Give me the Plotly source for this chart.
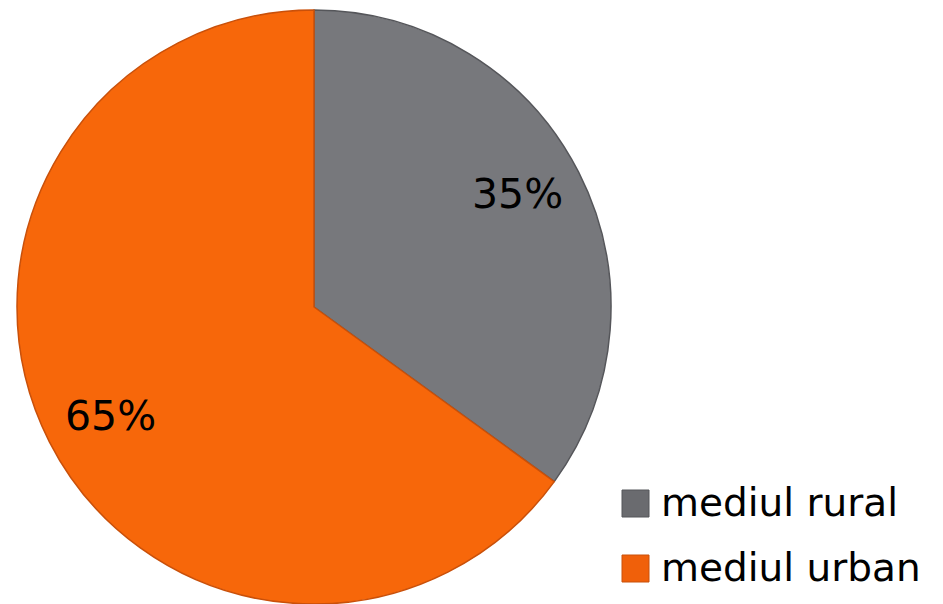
import math
import plotly.graph_objects as go

categories = ["mediul rural", "mediul urban"]
values = [35, 65]
colors = ["#77787c", "#f7670a"]
edge_colors = ["#55565a", "#c9500a"]
legend_fill = ["#6a6b6f", "#f0600a"]

W, H = 943, 604
FONT = "DejaVu Sans"

# pie geometry in pixels
cx, cy, r = 314, 307, 297

fig = go.Figure(go.Pie(
    labels=categories,
    values=values,
    sort=False,
    direction="clockwise",
    rotation=0,
    marker=dict(colors=colors, line=dict(color=edge_colors, width=1.5)),
    textinfo="none",
    hoverinfo="label+percent",
    showlegend=False,
    domain=dict(x=[(cx - r) / W, (cx + r) / W], y=[1 - (cy + r) / H, 1 - (cy - r) / H]),
))

annotations = []
total = sum(values)
start = 0.0
for v in values:
    frac = v / total
    mid = (start + frac / 2) * 2 * math.pi - math.radians(1.5)
    start += frac
    px = cx + 0.78 * r * math.sin(mid)
    py = cy - 0.78 * r * math.cos(mid)
    annotations.append(dict(
        x=px / W, y=1 - py / H, xref="paper", yref="paper",
        text=f"{round(frac * 100)}%", showarrow=False,
        font=dict(family=FONT, size=41, color="#000000"),
        xanchor="center", yanchor="middle", yshift=2,
    ))

shapes = []
leg_x0, leg_y0, step, sq = 622, 490, 65, 27
for i, name in enumerate(categories):
    y0 = leg_y0 + i * step
    shapes.append(dict(
        type="rect", xref="paper", yref="paper",
        x0=leg_x0 / W, x1=(leg_x0 + sq) / W,
        y0=1 - (y0 + sq) / H, y1=1 - y0 / H,
        fillcolor=legend_fill[i], line=dict(color=edge_colors[i], width=1),
    ))
    annotations.append(dict(
        x=659 / W, y=1 - (y0 + sq / 2) / H, xref="paper", yref="paper",
        text=name, showarrow=False,
        font=dict(family=FONT, size=39, color="#000000"),
        xanchor="left", yanchor="middle", yshift=1,
    ))

fig.update_layout(
    width=W, height=H,
    margin=dict(l=0, r=0, t=0, b=0),
    paper_bgcolor="#ffffff",
    plot_bgcolor="#ffffff",
    annotations=annotations,
    shapes=shapes,
    showlegend=False,
)

fig.write_html("out.html")
